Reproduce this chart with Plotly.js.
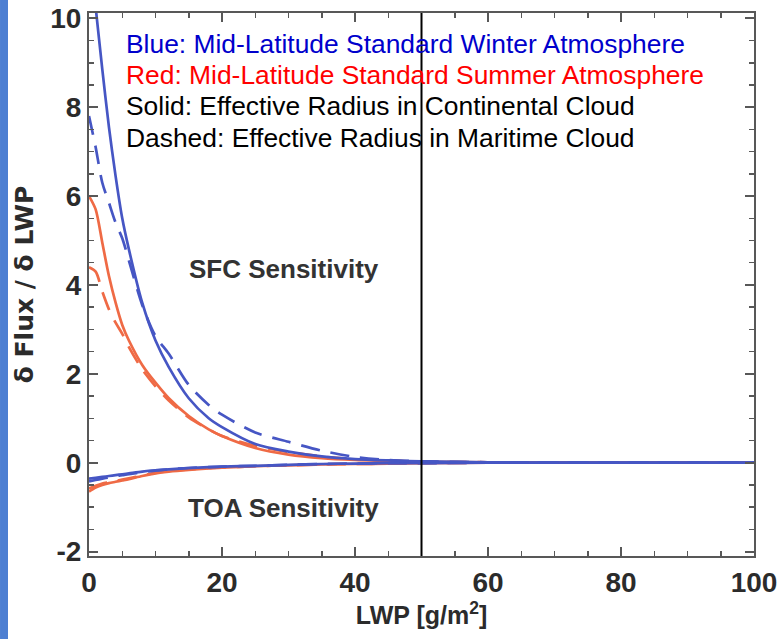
<!DOCTYPE html>
<html>
<head>
<meta charset="utf-8">
<script src="https://cdn.plot.ly/plotly-3.0.1.min.js"></script>
<style>
  html, body { margin: 0; padding: 0; background: #ffffff; }
  #chart { width: 777px; height: 639px; }
</style>
</head>
<body>
<div id="chart"></div>
<script>
// Liquid water path grid (g/m^2)
const lwp = [0, 1, 2, 3, 4, 5, 6, 8, 10, 12, 15, 18, 20, 25, 30, 35, 40, 45, 50, 60, 70, 80, 90, 100];

// Surface flux sensitivity d(Flux)/d(LWP)
const sfcWinterCont = [11.6, 10.25, 8.85, 7.55, 6.45, 5.5, 4.8, 3.6, 2.75, 2.15, 1.45, 1.0, 0.8, 0.42, 0.25, 0.14, 0.08, 0.05, 0.03, 0.01, 0, 0, 0, 0];
const sfcWinterMar  = [7.8, 7.1, 6.3, 5.85, 5.4, 5.05, 4.55, 3.55, 2.85, 2.45, 1.75, 1.3, 1.08, 0.68, 0.47, 0.27, 0.13, 0.06, 0.03, 0.01, 0, 0, 0, 0];
const sfcSummerCont = [6.0, 5.7, 4.95, 4.2, 3.6, 3.1, 2.75, 2.2, 1.8, 1.45, 1.05, 0.75, 0.6, 0.33, 0.18, 0.1, 0.06, 0.04, 0.02, 0.01, 0, 0, 0, 0];
const sfcSummerMar  = [4.4, 4.3, 3.85, 3.45, 3.15, 2.9, 2.6, 2.1, 1.72, 1.4, 1.02, 0.75, 0.6, 0.38, 0.24, 0.14, 0.08, 0.05, 0.02, 0.01, 0, 0, 0, 0];

// Top-of-atmosphere flux sensitivity
const toaWinterCont = [-0.36, -0.34, -0.32, -0.3, -0.28, -0.26, -0.24, -0.2, -0.17, -0.15, -0.12, -0.1, -0.09, -0.07, -0.05, -0.03, -0.02, -0.01, -0.01, 0, 0, 0, 0, 0];
const toaWinterMar  = [-0.42, -0.39, -0.36, -0.33, -0.3, -0.28, -0.26, -0.21, -0.18, -0.15, -0.12, -0.1, -0.09, -0.07, -0.05, -0.03, -0.02, -0.01, -0.01, 0, 0, 0, 0, 0];
const toaSummerCont = [-0.65, -0.56, -0.5, -0.46, -0.43, -0.4, -0.37, -0.3, -0.24, -0.2, -0.16, -0.13, -0.11, -0.08, -0.06, -0.04, -0.03, -0.02, -0.01, 0, 0, 0, 0, 0];
const toaSummerMar  = [-0.58, -0.52, -0.47, -0.44, -0.41, -0.38, -0.35, -0.29, -0.23, -0.19, -0.15, -0.12, -0.11, -0.08, -0.06, -0.04, -0.03, -0.02, -0.01, 0, 0, 0, 0, 0];

// Axis ticks
const xTicks = [0, 20, 40, 60, 80, 100];
const yTicks = [-2, 0, 2, 4, 6, 8, 10];
const yTickText = ['-2', '0', '2', '4', '6', '8', '10'];

// Key text lines
const keyLines = [
  'Blue: Mid-Latitude Standard Winter Atmosphere',
  'Red: Mid-Latitude Standard Summer Atmosphere',
  'Solid: Effective Radius in Continental Cloud',
  'Dashed: Effective Radius in Maritime Cloud'
];
const keyColors = ['#0000cc', '#ff0000', '#000000', '#000000'];

const BLUE = '#4656c4';
const RED = '#ef6a45';
const DASH = '19px,11px';
const boldSans = 'Liberation Sans, Arial, sans-serif';

function line(y, color, dashed) {
  return {
    x: lwp, y: y, type: 'scatter', mode: 'lines',
    line: { color: color, width: 2.7, dash: dashed ? DASH : 'solid', shape: 'spline', smoothing: 0.8 },
    hoverinfo: 'skip', showlegend: false
  };
}

const traces = [
  line(toaSummerCont, RED, false),
  line(toaSummerMar, RED, true),
  line(sfcSummerCont, RED, false),
  line(sfcSummerMar, RED, true),
  line(toaWinterCont, BLUE, false),
  line(toaWinterMar, BLUE, true),
  line(sfcWinterCont, BLUE, false),
  line(sfcWinterMar, BLUE, true)
];

const axisCommon = {
  showline: true, linecolor: '#585858', linewidth: 2, mirror: 'ticks',
  ticks: 'inside', ticklen: 9, tickwidth: 2, tickcolor: '#585858',
  showgrid: false, zeroline: false,
  tickfont: { family: boldSans, size: 28, weight: 'bold', color: '#2b2b2b' }
};

const keyAnnotations = keyLines.map((t, i) => ({
  xref: 'paper', yref: 'paper', x: 0.0526, y: 0.943 - i * 0.0575,
  xanchor: 'left', yanchor: 'middle', showarrow: false, text: t,
  font: { family: 'Liberation Sans, Arial, sans-serif', size: 26.4, color: keyColors[i] }
}));

const layout = {
  width: 777, height: 639,
  margin: { l: 89, r: 23, t: 13, b: 83 },
  paper_bgcolor: '#ffffff', plot_bgcolor: '#ffffff',
  xaxis: Object.assign({}, axisCommon, {
    range: [0, 100], tickvals: xTicks, ticktext: xTicks.map(String),
    ticklabeloverflow: 'allow', automargin: 'bottom',
    minor: { dtick: 5, ticks: 'inside', ticklen: 5, tickwidth: 1.5, tickcolor: '#585858' },
    title: { text: 'LWP [g/m<sup>2</sup>]', standoff: 9,
             font: { family: boldSans, size: 25, weight: 'bold', color: '#2b2b2b' } }
  }),
  yaxis: Object.assign({}, axisCommon, {
    range: [-2.1, 10.12], tickvals: yTicks, ticktext: yTickText,
    minor: { dtick: 0.5, ticks: 'inside', ticklen: 5, tickwidth: 1.5, tickcolor: '#585858' },
    title: { text: 'δ Flux / δ LWP', standoff: 9,
             font: { family: 'DejaVu Sans, sans-serif', size: 25, weight: 'bold', color: '#2b2b2b' } }
  }),
  shapes: [
    // slide background strip at the left edge
    { type: 'rect', xref: 'paper', yref: 'paper', x0: -0.1338, x1: -0.1218, y0: -0.16, y1: 1.03,
      line: { width: 0 }, fillcolor: '#4d7fd2', layer: 'below' },
    // divider at LWP = 50
    { type: 'line', xref: 'x', yref: 'paper', x0: 50, x1: 50, y0: 0, y1: 1,
      line: { color: '#000000', width: 2 } }
  ],
  annotations: [
    { x: 29.3, y: 4.35, xref: 'x', yref: 'y', text: 'SFC Sensitivity', showarrow: false,
      font: { family: boldSans, size: 26, weight: 'bold', color: '#333333' } },
    { x: 29.3, y: -1.01, xref: 'x', yref: 'y', text: 'TOA Sensitivity', showarrow: false,
      font: { family: boldSans, size: 26, weight: 'bold', color: '#333333' } }
  ].concat(keyAnnotations)
};

Plotly.newPlot('chart', traces, layout, { displayModeBar: false, staticPlot: true });
</script>
</body>
</html>
